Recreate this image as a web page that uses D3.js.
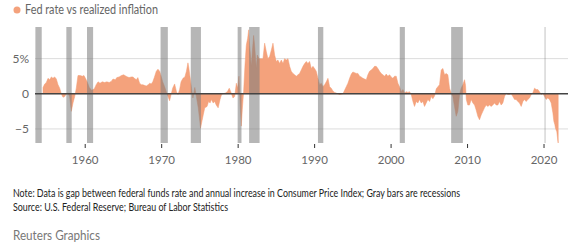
<!DOCTYPE html>
<html>
<head>
<meta charset="utf-8">
<script src="https://cdn.jsdelivr.net/npm/d3@7"></script>
<style>
    body { margin: 0; background: #fff; }
    text { font-family: Lato, "Noto Sans", sans-serif; }
</style>
</head>
<body>
<div id="chart-area"></div>
<script>
// Fed funds rate minus annual CPI change, in percentage points
var years = [
    1954.55, 1954.77, 1954.98, 1955.2, 1955.42, 1955.64, 1955.85, 1956.07, 1956.29, 1956.51,
    1956.73, 1956.94, 1957.16, 1957.38, 1957.6, 1957.81, 1958.03, 1958.25, 1958.47, 1958.69,
    1958.9, 1959.12, 1959.4, 1959.7, 1959.9, 1960.15, 1960.4, 1960.6, 1960.9, 1961.1,
    1961.3, 1961.5, 1961.75, 1962.0, 1962.3, 1962.6, 1962.9, 1963.2, 1963.5, 1963.7,
    1964.0, 1964.2, 1964.5, 1964.8, 1965.1, 1965.4, 1965.6, 1965.8, 1966.1, 1966.31,
    1966.5, 1966.75, 1966.95, 1967.18, 1967.4, 1967.6, 1967.8, 1968.05, 1968.3, 1968.5,
    1968.7, 1968.9, 1969.1, 1969.36, 1969.58, 1969.8, 1970.0, 1970.2, 1970.45, 1970.67,
    1970.9, 1971.1, 1971.3, 1971.5, 1971.76, 1972.0, 1972.2, 1972.41, 1972.6, 1972.85,
    1973.1, 1973.3, 1973.5, 1973.6, 1973.75, 1973.95, 1974.15, 1974.4, 1974.6, 1974.85,
    1975.05, 1975.15, 1975.35, 1975.5, 1975.7, 1976.0, 1976.2, 1976.4, 1976.55, 1976.8,
    1977.0, 1977.2, 1977.45, 1977.7, 1977.9, 1978.07, 1978.4, 1978.65, 1978.9, 1979.1,
    1979.39, 1979.61, 1979.83, 1980.0, 1980.17, 1980.35, 1980.48, 1980.61, 1980.78, 1980.96,
    1981.13, 1981.31, 1981.44, 1981.57, 1981.79, 1981.92, 1982.09, 1982.22, 1982.44, 1982.57,
    1982.79, 1983.09, 1983.31, 1983.53, 1983.75, 1983.96, 1984.18, 1984.4, 1984.62, 1984.84,
    1985.05, 1985.27, 1985.49, 1985.71, 1985.93, 1986.14, 1986.36, 1986.58, 1986.8, 1987.01,
    1987.23, 1987.45, 1987.67, 1987.89, 1988.1, 1988.32, 1988.54, 1988.76, 1988.98, 1989.19,
    1989.41, 1989.63, 1989.85, 1990.06, 1990.28, 1990.5, 1990.72, 1990.94, 1991.15, 1991.37,
    1991.59, 1991.81, 1992.03, 1992.24, 1992.46, 1992.68, 1992.9, 1993.33, 1993.77, 1994.2,
    1994.42, 1994.64, 1994.86, 1995.07, 1995.3, 1995.51, 1995.73, 1995.95, 1996.15, 1996.38,
    1996.6, 1996.82, 1997.03, 1997.25, 1997.47, 1997.69, 1997.9, 1998.12, 1998.34, 1998.56,
    1998.78, 1998.99, 1999.21, 1999.43, 1999.65, 1999.87, 2000.08, 2000.3, 2000.52, 2000.74,
    2000.96, 2001.17, 2001.39, 2001.61, 2001.83, 2002.05, 2002.27, 2002.48, 2002.7, 2002.92,
    2003.13, 2003.35, 2003.57, 2003.79, 2004.0, 2004.22, 2004.44, 2004.66, 2004.88, 2005.1,
    2005.31, 2005.53, 2005.75, 2005.97, 2006.18, 2006.4, 2006.62, 2006.84, 2007.06, 2007.27,
    2007.49, 2007.71, 2007.93, 2008.14, 2008.36, 2008.58, 2008.8, 2009.02, 2009.23, 2009.45,
    2009.67, 2009.8, 2009.9, 2010.1, 2010.32, 2010.54, 2010.76, 2010.98, 2011.19, 2011.41,
    2011.63, 2011.85, 2012.07, 2012.28, 2012.5, 2012.72, 2012.94, 2013.15, 2013.37, 2013.59,
    2013.81, 2014.03, 2014.24, 2014.46, 2014.68, 2014.9, 2015.11, 2015.33, 2015.55, 2015.77,
    2015.99, 2016.21, 2016.42, 2016.64, 2016.86, 2017.08, 2017.3, 2017.51, 2017.73, 2017.95,
    2018.17, 2018.39, 2018.6, 2018.82, 2019.04, 2019.26, 2019.47, 2019.69, 2019.91, 2020.13,
    2020.34, 2020.56, 2020.78, 2021.0, 2021.22, 2021.35, 2021.48, 2021.56, 2021.74, 2021.87,
    2021.92
];

var gap = [
    0.9, 1.4, 1.6, 2.2, 2.0, 2.4, 2.2, 2.4, 2.1, 1.3,
    0.8, 0.0, -0.5, -0.4, 0.0, 0.1, -0.4, -2.5, -1.3, -0.4,
    0.8, 2.6, 2.6, 2.5, 2.6, 2.1, 1.5, 0.9, 0.5, 0.6,
    0.8, 1.3, 1.7, 1.5, 1.7, 1.6, 1.7, 1.6, 1.8, 2.1,
    2.0, 2.3, 2.4, 2.6, 2.7, 2.5, 2.4, 2.3, 2.4, 2.4,
    2.2, 2.0, 2.3, 1.5, 1.3, 1.3, 1.2, 1.1, 1.3, 1.5,
    1.4, 1.7, 2.3, 3.2, 3.5, 3.2, 2.5, 1.7, 1.0, 0.3,
    -0.4, -1.0, -0.1, 0.8, 1.4, 0.3, -0.1, 0.6, 1.7, 2.2,
    2.4, 3.2, 4.4, 3.8, 2.6, 1.0, -0.6, 0.9, -0.4, -2.0,
    -3.9, -4.9, -3.8, -3.0, -2.0, -1.8, -1.1, -1.3, -0.8, -1.3,
    -1.1, -1.6, -2.0, -0.8, -0.1, 0.0, 0.1, 0.3, 0.8, 0.3,
    -0.6, -0.4, 1.5, 0.8, 2.5, -2.0, -4.6, -2.2, 0.3, 4.1,
    6.9, 7.9, 9.1, 6.9, 3.9, 6.0, 8.3, 6.9, 3.6, 5.5,
    5.0, 5.0, 5.0, 7.2, 6.0, 5.0, 5.3, 6.2, 7.2, 5.5,
    4.6, 4.8, 4.3, 4.8, 4.3, 5.0, 4.8, 5.0, 3.9, 3.2,
    2.9, 2.7, 2.5, 2.7, 2.9, 3.4, 3.9, 4.3, 4.6, 4.3,
    4.6, 3.6, 3.9, 3.6, 3.2, 2.2, 1.3, 1.5, 1.0, 1.3,
    1.7, 2.2, 1.0, 0.8, 0.4, 0.2, 0.1, -0.1, 0.0, 1.0,
    1.5, 2.2, 2.8, 3.1, 3.0, 2.9, 2.9, 2.5, 2.4, 2.2,
    2.1, 2.0, 2.7, 3.2, 3.4, 3.6, 3.9, 3.9, 3.6, 3.2,
    2.9, 2.7, 2.5, 2.8, 2.5, 2.7, 2.4, 2.2, 2.5, 2.5,
    1.5, 1.0, 0.3, 0.6, 0.1, 0.3, 0.2, 0.3, -0.1, -1.1,
    -1.8, -1.1, -1.3, -0.8, -1.3, -1.1, -1.8, -1.3, -0.8, -1.1,
    -0.4, -0.7, -0.3, 0.7, 1.0, 1.3, 3.4, 3.6, 2.7, 2.9,
    2.7, 0.8, 0.1, -0.4, -1.8, -3.2, -2.5, -0.1, 0.8, 1.3,
    2.0, 1.2, -0.8, -1.6, -1.6, -0.8, -1.3, -1.6, -2.3, -3.2,
    -3.7, -3.0, -2.5, -2.0, -1.6, -1.8, -1.6, -1.8, -1.6, -1.3,
    -1.6, -1.6, -1.1, -1.6, -1.3, -0.4, 0.1, -0.1, -0.1, 0.0,
    -0.4, -0.8, -0.8, -1.1, -1.3, -1.8, -1.1, -0.8, -1.1, -0.8,
    -0.6, -0.1, 0.1, 0.8, 0.6, 0.6, 0.3, -0.1, 0.1, -0.4,
    -0.8, -0.6, -0.8, -1.3, -2.7, -3.9, -4.4, -4.9, -5.4, -6.7,
    -7.0
];

// Recessions (gray bars)
var recessionStart = [1953.55, 1957.6, 1960.3, 1969.92, 1973.87, 1980.0, 1981.5, 1990.5, 2001.2, 2007.92, 2020.1];
var recessionEnd   = [1954.38, 1958.3, 1961.1, 1970.87, 1975.2, 1980.5, 1982.87, 1991.2, 2001.87, 2009.45, 2020.3];

var xTickYears = [1960, 1970, 1980, 1990, 2000, 2010, 2020];
var yTickValues = [-5, 0, 5];
var yTickLabels = ["\u22125", "0", "5%"];

var svgWidth = 575;
var svgHeight = 249;

var plot = { left: 35, right: 568, top: 27, bottom: 143 };

var svg = d3.select("#chart-area")
    .append("svg")
        .attr("width", svgWidth)
        .attr("height", svgHeight);

// Scales
var x = d3.scaleLinear()
    .domain([1953.5, 2023.2])
    .range([plot.left, plot.right]);

var y = d3.scaleLinear()
    .domain([-7, 9.5])
    .range([plot.bottom, plot.top]);

var dados = years.map((d, i) => { return { ano: d, valor: gap[i] }; });

// Legend
svg.append("circle")
    .attr("cx", 17)
    .attr("cy", 10)
    .attr("r", 3.5)
    .attr("fill", "#f4a27c");

svg.append("text")
    .attr("x", 25)
    .attr("y", 14)
    .attr("font-size", "12.5px")
    .attr("fill", "#666")
    .attr("textLength", 133)
    .attr("lengthAdjust", "spacingAndGlyphs")
    .text("Fed rate vs realized inflation");

// Grid lines
svg.append("g")
    .selectAll("line")
    .data(yTickValues.filter(d => d !== 0))
    .enter()
    .append("line")
        .attr("x1", plot.left)
        .attr("x2", plot.right)
        .attr("y1", d => y(d))
        .attr("y2", d => y(d))
        .attr("stroke", "#dcdcdc")
        .attr("stroke-width", 1);

// Y labels
svg.append("g")
    .selectAll("text")
    .data(yTickValues)
    .enter()
    .append("text")
        .attr("x", 29)
        .attr("y", d => y(d) + 4)
        .attr("text-anchor", "end")
        .attr("font-size", "12px")
        .attr("fill", "#666")
        .text((d, i) => yTickLabels[i]);

// Area
var area = d3.area()
    .x(d => x(d.ano))
    .y0(y(0))
    .y1(d => y(d.valor));

svg.append("path")
    .datum(dados)
    .attr("d", area)
    .attr("fill", "#f4a27c")
    .attr("stroke", "#f29c74")
    .attr("stroke-width", 0.5);

// Recession bars on top
svg.append("g")
    .selectAll("rect")
    .data(recessionStart)
    .enter()
    .append("rect")
        .attr("x", d => x(d))
        .attr("y", plot.top)
        .attr("width", (d, i) => Math.max(1, x(recessionEnd[i]) - x(d)))
        .attr("height", plot.bottom - plot.top)
        .attr("fill", "#7a7a7a")
        .attr("opacity", (d, i) => (x(recessionEnd[i]) - x(d)) < 2 ? 0.3 : 0.55);

// Zero line
svg.append("line")
    .attr("x1", plot.left)
    .attr("x2", plot.right)
    .attr("y1", y(0))
    .attr("y2", y(0))
    .attr("stroke", "#444")
    .attr("stroke-width", 1.5);

// X axis
var xAxisGroup = svg.append("g")
    .attr("transform", "translate(0, " + (plot.bottom + 1) + ")")
    .call(d3.axisBottom(x).tickValues(xTickYears).tickFormat(d3.format("d")).tickSize(4));

xAxisGroup.select(".domain").remove();
xAxisGroup.selectAll(".tick line").attr("stroke", "#333");
xAxisGroup.selectAll(".tick text")
    .attr("y", 12)
    .attr("font-size", "11.5px")
    .attr("font-family", "Lato, 'Noto Sans', sans-serif")
    .attr("fill", "#666");

// Notes
svg.append("text")
    .attr("x", 13)
    .attr("y", 197)
    .attr("font-size", "11px")
    .attr("fill", "#222")
    .attr("textLength", 447)
    .attr("lengthAdjust", "spacingAndGlyphs")
    .text("Note: Data is gap between federal funds rate and annual increase in Consumer Price Index; Gray bars are recessions");

svg.append("text")
    .attr("x", 13)
    .attr("y", 211)
    .attr("font-size", "11px")
    .attr("fill", "#222")
    .attr("textLength", 215)
    .attr("lengthAdjust", "spacingAndGlyphs")
    .text("Source: U.S. Federal Reserve; Bureau of Labor Statistics");

svg.append("text")
    .attr("x", 13)
    .attr("y", 240)
    .attr("font-size", "13px")
    .attr("fill", "#777")
    .attr("textLength", 87)
    .attr("lengthAdjust", "spacingAndGlyphs")
    .text("Reuters Graphics");
</script>
</body>
</html>
